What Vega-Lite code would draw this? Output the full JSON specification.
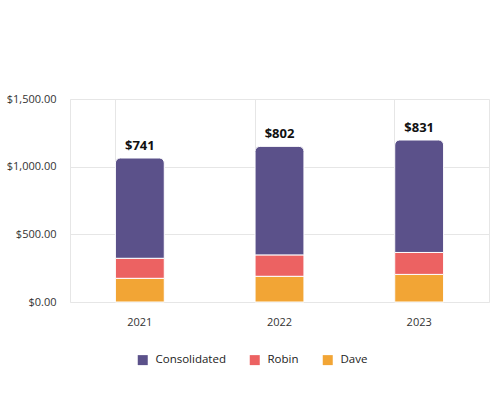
{
  "$schema": "https://vega.github.io/schema/vega-lite/v6.json",
  "width": 419,
  "height": 203,
  "autosize": "none",
  "padding": {"left": 70, "top": 99, "right": 11, "bottom": 98},
  "config": {
    "font": "Open Sans",
    "view": {"stroke": "#e6e6e6"},
    "axis": {"gridColor": "#e6e6e6", "domain": false, "ticks": false, "labelColor": "#333333", "labelFontSize": 11, "title": null}
  },
  "data": {
    "values": [
      {"year": "2021", "series": "Dave", "rank": 1, "value": 175},
      {"year": "2021", "series": "Robin", "rank": 2, "value": 148},
      {"year": "2021", "series": "Consolidated", "rank": 3, "value": 741},
      {"year": "2022", "series": "Dave", "rank": 1, "value": 190},
      {"year": "2022", "series": "Robin", "rank": 2, "value": 158},
      {"year": "2022", "series": "Consolidated", "rank": 3, "value": 802},
      {"year": "2023", "series": "Dave", "rank": 1, "value": 204},
      {"year": "2023", "series": "Robin", "rank": 2, "value": 162},
      {"year": "2023", "series": "Consolidated", "rank": 3, "value": 831}
    ]
  },
  "transform": [
    {"stack": "value", "groupby": ["year"], "sort": [{"field": "rank", "order": "ascending"}], "as": ["v0", "v1"]}
  ],
  "resolve": {"axis": {"x": "independent"}},
  "layer": [
    {
      "transform": [{"filter": "datum.series !== 'Consolidated'"}],
      "mark": {"type": "bar", "stroke": "white", "strokeWidth": 1},
      "encoding": {
        "x": {"field": "year", "type": "nominal", "scale": {"paddingInner": 0.65, "paddingOuter": 0.325},
              "axis": {"orient": "top", "labels": false, "grid": true, "bandPosition": 0}},
        "y": {"field": "v0", "type": "quantitative", "scale": {"domain": [0, 1500], "nice": false},
              "axis": {"values": [0, 500, 1000, 1500], "format": "$,.2f", "labelPadding": 14, "grid": true}},
        "y2": {"field": "v1"},
        "color": {"field": "series", "type": "nominal",
                  "scale": {"domain": ["Consolidated", "Robin", "Dave"], "range": ["#5b518a", "#ec6262", "#f2a535"]},
                  "legend": {"orient": "none", "legendX": 67, "legendY": 255, "direction": "horizontal", "title": null,
                             "symbolType": "square", "symbolSize": 100, "symbolStrokeWidth": 0, "labelFontSize": 11.5, "labelColor": "#222222",
                             "labelOffset": 7, "columnPadding": 23}}
      }
    },
    {
      "transform": [{"filter": "datum.series === 'Consolidated'"}],
      "mark": {"type": "bar", "stroke": "white", "strokeWidth": 1, "cornerRadiusTopLeft": 5, "cornerRadiusTopRight": 5},
      "encoding": {
        "x": {"field": "year", "type": "nominal", "axis": {"orient": "bottom", "grid": false, "labelPadding": 14, "labelAngle": 0}},
        "y": {"field": "v0", "type": "quantitative", "scale": {"domain": [0, 1500], "nice": false}},
        "y2": {"field": "v1"},
        "color": {"field": "series", "type": "nominal"}
      }
    },
    {
      "transform": [{"filter": "datum.series === 'Consolidated'"}],
      "mark": {"type": "text", "dy": -12, "fontWeight": "bold", "fontSize": 13, "color": "#111111"},
      "encoding": {
        "x": {"field": "year", "type": "nominal", "axis": null},
        "y": {"field": "v1", "type": "quantitative", "scale": {"domain": [0, 1500], "nice": false}},
        "text": {"field": "value", "type": "quantitative", "format": "$,.0f"}
      }
    }
  ]
}
